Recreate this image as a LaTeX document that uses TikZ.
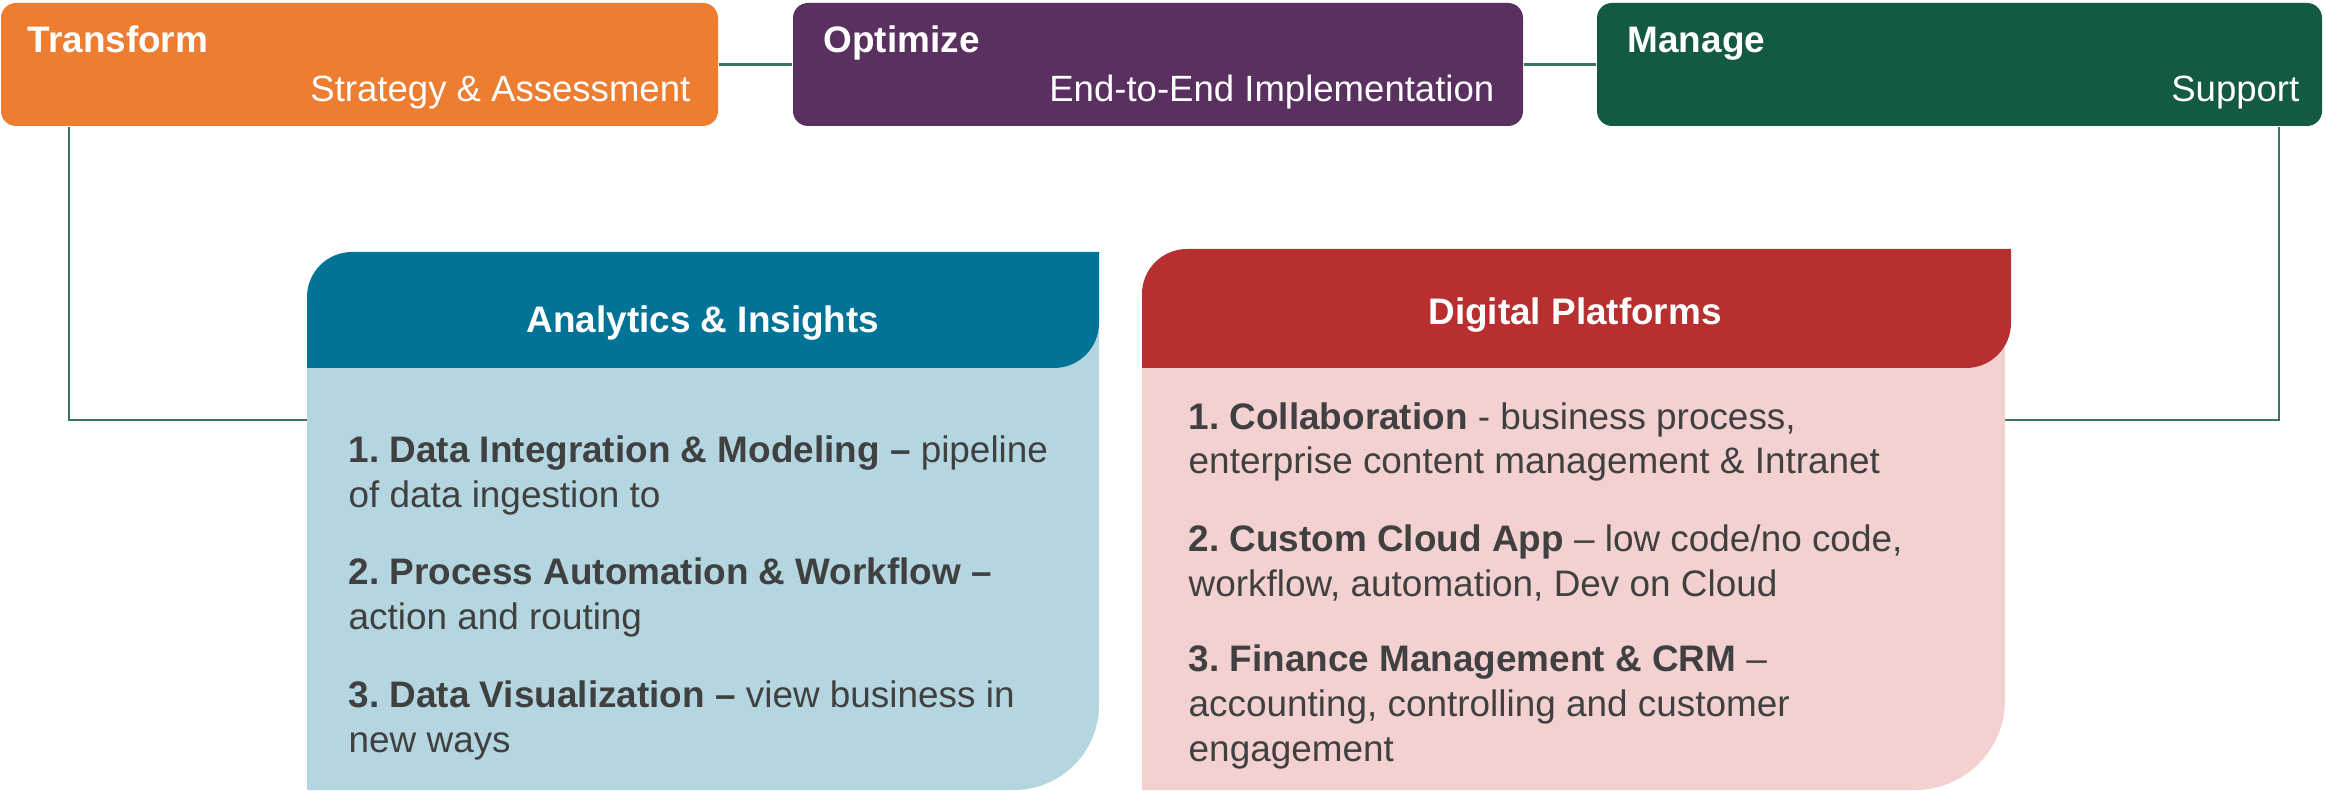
\documentclass[tikz,border=0pt]{standalone}
\usepackage{fontspec}
\setmainfont{Liberation Sans}
\usepackage{xcolor}
\usetikzlibrary{positioning,calc}
\frenchspacing

\definecolor{arancio}{HTML}{ED7D31}
\definecolor{viola}{HTML}{5A3060}
\definecolor{verdescuro}{HTML}{135A41}
\definecolor{petrolio}{HTML}{007396}
\definecolor{azzurrino}{HTML}{B4D6E0}
\definecolor{rosso}{HTML}{B72F2E}
\definecolor{rosa}{HTML}{F4D1D1}
\definecolor{linea}{HTML}{3A7460}
\definecolor{testo}{HTML}{404040}

\tikzset{
  fase/.style={rounded corners=1.5mm, minimum height=12.3mm, inner sep=0pt},
  titolo/.style={text=white, inner sep=0pt, font=\fontsize{10.5}{12.6}\selectfont\bfseries},
  sottotitolo/.style={text=white, inner sep=0pt, font=\fontsize{10.4}{12.6}\selectfont},
  intestazione/.style={text=white, inner sep=0pt, font=\fontsize{10.5}{12.6}\selectfont\bfseries},
  voce/.style={text=testo, inner sep=0pt, align=left, font=\fontsize{10.5}{12.8}\selectfont},
  collega/.style={draw=linea, line width=0.6pt}
}

\begin{document}
\begin{tikzpicture}[x=0.1mm, y=0.1mm]
    \useasboundingbox (0,0) rectangle (2325,790);
    % Le tre fasi in alto
    \node[fase, fill=arancio, minimum width=71.7mm] (transform) at (359.5,725.5) {};
    \node[fase, fill=viola, minimum width=73mm] (optimize) at (1158,725.5) {};
    \node[fase, fill=verdescuro, minimum width=72.5mm] (manage) at (1959.5,725.5) {};
    \node[titolo, anchor=base west] (transformT) at (27,737) {Transform};
    \node[sottotitolo, anchor=base east] (transformS) at (691,688) {Strategy \& Assessment};
    \node[titolo, anchor=base west] (optimizeT) at (823,737) {Optimize};
    \node[sottotitolo, anchor=base east] (optimizeS) at (1495,688) {End-to-End Implementation};
    \node[titolo, anchor=base west] (manageT) at (1627,737) {Manage};
    \node[sottotitolo, anchor=base east] (manageS) at (2300,688) {Support};
    % Punti di attacco sui pannelli
    \coordinate (anaL) at (307,370);
    \coordinate (digR) at (2005,370);
    % Linee di collegamento
    \draw[collega] (transform.east) -- (optimize.west);
    \draw[collega] (optimize.east) -- (manage.west);
    \draw[collega] ([xshift=6.9mm]transform.south west) |- (anaL);
    \draw[collega] ([xshift=-4.4mm]manage.south east) |- (digR);
    % Pannello Analytics & Insights
    \fill[azzurrino] (307,480) -- (1099,480) -- (1099,85) arc[start angle=0, end angle=-90, radius=85] -- (307,0) -- cycle;
    \fill[petrolio] (307,422) -- (307,493) arc[start angle=180, end angle=90, radius=45] -- (1099,538) -- (1099,467) arc[start angle=0, end angle=-90, radius=45] -- cycle;
    \node[intestazione, anchor=base] (anaT) at (703,457) {Analytics \& Insights};
    % (base = ultima riga)
    \node[voce, anchor=base west] (ana1) at (348,283) {\textbf{1. Data Integration \& Modeling –} pipeline\\of data ingestion to};
    \node[voce, anchor=base west] (ana2) at (348,161) {\textbf{2. Process Automation \& Workflow –}\\action and routing};
    \node[voce, anchor=base west] (ana3) at (348,38) {\textbf{3. Data Visualization –} view business in\\new ways};
    % Pannello Digital Platforms
    \fill[rosa] (1142,480) -- (2005,480) -- (2005,90) arc[start angle=0, end angle=-90, radius=90] -- (1142,0) -- cycle;
    \fill[rosso] (1142,422) -- (1142,496) arc[start angle=180, end angle=90, radius=45] -- (2011,541) -- (2011,467) arc[start angle=0, end angle=-90, radius=45] -- cycle;
    \node[intestazione, anchor=base] (digT) at (1575,465) {Digital Platforms};
    \node[voce, anchor=base west] (dig1) at (1188,316) {\textbf{1. Collaboration} - business process,\\enterprise content management \& Intranet};
    \node[voce, anchor=base west] (dig2) at (1188,194) {\textbf{2. Custom Cloud App} – low code/no code,\\workflow, automation, Dev on Cloud};
    \node[voce, anchor=base west] (dig3) at (1188,29) {\textbf{3. Finance Management \& CRM} –\\accounting, controlling and customer\\engagement};
  \end{tikzpicture}
\end{document}
